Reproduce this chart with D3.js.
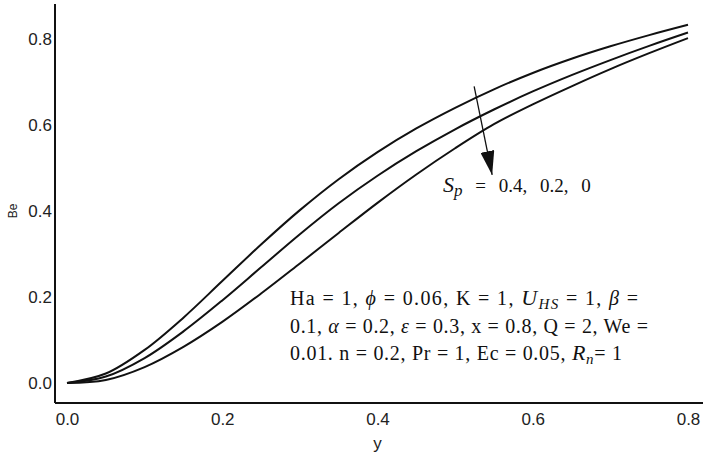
<!DOCTYPE html>
<html>
<head>
<meta charset="utf-8">
<script src="https://cdn.jsdelivr.net/npm/d3@7"></script>
<style>
  body { margin: 0; background: #fff; }
  .tick text { font-family: 'Liberation Sans', Arial, sans-serif; font-size: 17px; fill: #222; }
  .note { font-family: 'Liberation Serif', 'Times New Roman', serif; font-size: 20px; fill: #111; }
</style>
</head>
<body>
<div id="chart"></div>
<script>
var width = 705,
	height = 458;

var yValues = [0, 0.05, 0.1, 0.15, 0.2, 0.25, 0.3, 0.35, 0.4, 0.45, 0.5, 0.55, 0.6, 0.65, 0.7, 0.75, 0.8];
var beSp04 = [0, 0.022, 0.077, 0.152, 0.237, 0.322, 0.402, 0.474, 0.537, 0.592, 0.640, 0.683, 0.721, 0.754, 0.783, 0.809, 0.833];
var beSp02 = [0, 0.015, 0.058, 0.120, 0.192, 0.269, 0.346, 0.418, 0.482, 0.539, 0.590, 0.636, 0.678, 0.716, 0.751, 0.784, 0.815];
var beSp00 = [0, 0.007, 0.037, 0.084, 0.142, 0.208, 0.278, 0.349, 0.419, 0.485, 0.546, 0.602, 0.648, 0.690, 0.730, 0.767, 0.802];
var xTicks = [0, 0.2, 0.4, 0.6, 0.8];
var yTicks = [0, 0.2, 0.4, 0.6, 0.8];

var svg = d3.select('#chart').append('svg')
	.attr('width', width)
	.attr('height', height);

var x = d3.scaleLinear().domain([0, 0.8]).range([67, 688]);
var y = d3.scaleLinear().domain([0, 0.8]).range([383, 39]);

// frame: left and bottom lines
svg.append('line')
	.attr('x1', 55).attr('x2', 55).attr('y1', 4).attr('y2', 403)
	.attr('stroke', '#111').attr('stroke-width', 2);
svg.append('line')
	.attr('x1', 55).attr('x2', 703).attr('y1', 403).attr('y2', 403)
	.attr('stroke', '#111').attr('stroke-width', 2);

var xAxis = svg.append('g')
	.attr('transform', 'translate(0,403)')
	.call(d3.axisBottom(x).tickValues(xTicks).tickSize(0).tickPadding(10).tickFormat(d3.format('.1f')));
xAxis.select('.domain').remove();

var yAxis = svg.append('g')
	.attr('transform', 'translate(52,0)')
	.call(d3.axisLeft(y).tickValues(yTicks).tickSize(0).tickPadding(0).tickFormat(d3.format('.1f')));
yAxis.select('.domain').remove();

svg.append('text')
	.attr('x', x(0.4)).attr('y', 449)
	.attr('text-anchor', 'middle')
	.style('font-family', 'Liberation Sans, Arial, sans-serif')
	.style('font-size', '17px').style('fill', '#222')
	.text('y');

svg.append('text')
	.attr('transform', 'translate(17,' + y(0.4) + ') rotate(-90)')
	.attr('text-anchor', 'middle')
	.style('font-family', 'Liberation Sans, Arial, sans-serif')
	.style('font-size', '12px').style('fill', '#222')
	.text('Be');

var line = d3.line()
	.x(function(d, i) { return x(yValues[i]); })
	.y(function(d) { return y(d); })
	.curve(d3.curveCatmullRom.alpha(0.5));

[beSp04, beSp02, beSp00].forEach(function(s) {
	svg.append('path')
		.datum(s)
		.attr('d', line)
		.attr('fill', 'none')
		.attr('stroke', '#111')
		.attr('stroke-width', 2);
});

// arrow
svg.append('defs').append('marker')
	.attr('id', 'head')
	.attr('viewBox', '0 0 24 14')
	.attr('refX', 24).attr('refY', 7)
	.attr('markerWidth', 24).attr('markerHeight', 14)
	.attr('markerUnits', 'userSpaceOnUse')
	.attr('orient', 'auto')
	.append('path')
	.attr('d', 'M0,0 L24,7 L0,14 Z')
	.attr('fill', '#111');

svg.append('line')
	.attr('x1', x(0.5245)).attr('y1', y(0.69))
	.attr('x2', x(0.5477)).attr('y2', y(0.484))
	.attr('stroke', '#111').attr('stroke-width', 1.3)
	.attr('marker-end', 'url(#head)');

var sp = svg.append('text').attr('class', 'note')
	.attr('x', 443).attr('y', 192)
	.style('font-size', '19px')
	.style('word-spacing', '8px');
sp.append('tspan').style('font-style', 'italic').style('font-size', '22px').text('S');
sp.append('tspan').style('font-style', 'italic').style('font-size', '17px').attr('dy', 4).text('p');
sp.append('tspan').attr('dy', -4).text(' = 0.4, 0.2, 0');

// parameter block
var l1 = svg.append('text').attr('class', 'note')
	.attr('x', 290).attr('y', 305)
	.attr('textLength', 348).attr('lengthAdjust', 'spacing');
l1.append('tspan').text('Ha = 1, ');
l1.append('tspan').style('font-style', 'italic').text('ϕ');
l1.append('tspan').text(' = 0.06, K = 1, ');
l1.append('tspan').style('font-style', 'italic').style('font-size', '22px').text('U');
l1.append('tspan').style('font-style', 'italic').style('font-size', '15px').attr('dy', 4).text('HS');
l1.append('tspan').attr('dy', -4).text('  =  1, ');
l1.append('tspan').style('font-style', 'italic').text('β');
l1.append('tspan').text(' =');

var l2 = svg.append('text').attr('class', 'note')
	.attr('x', 290).attr('y', 333)
	.attr('textLength', 358).attr('lengthAdjust', 'spacing');
l2.append('tspan').text('0.1, ');
l2.append('tspan').style('font-style', 'italic').text('α');
l2.append('tspan').text(' = 0.2, ');
l2.append('tspan').style('font-style', 'italic').text('ε');
l2.append('tspan').text(' = 0.3, x = 0.8, Q = 2, We =');

var l3 = svg.append('text').attr('class', 'note')
	.attr('x', 290).attr('y', 360)
	.attr('textLength', 332).attr('lengthAdjust', 'spacing');
l3.append('tspan').text('0.01. n = 0.2, Pr = 1, Ec = 0.05, ');
l3.append('tspan').style('font-style', 'italic').style('font-size', '22px').text('R');
l3.append('tspan').style('font-style', 'italic').style('font-size', '15px').attr('dy', 4).text('n');
l3.append('tspan').attr('dy', -4).text('= 1');
</script>
</body>
</html>
